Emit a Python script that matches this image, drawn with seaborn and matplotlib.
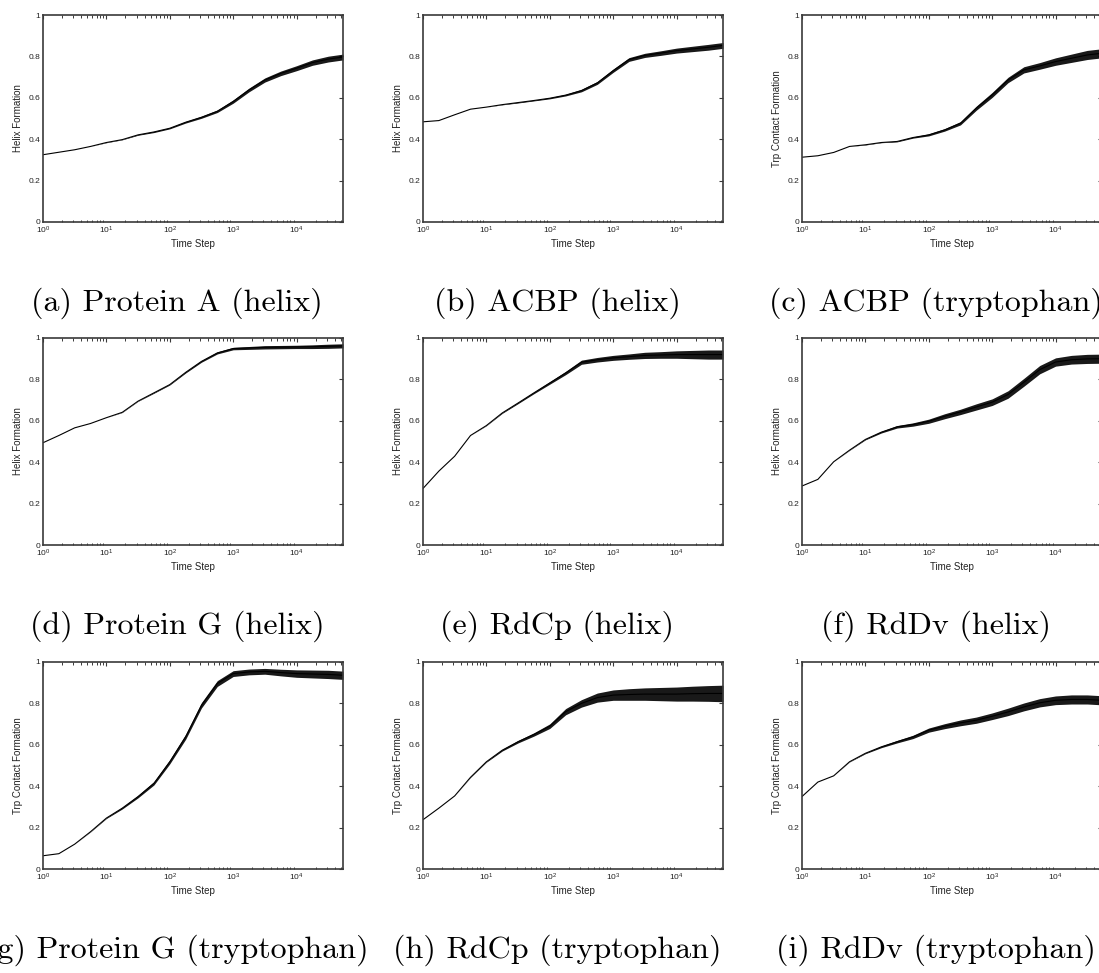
import numpy as np
import matplotlib
matplotlib.use("Agg")
import matplotlib.pyplot as plt
import matplotlib.ticker as mticker
import seaborn as sns

# ---------------- data ----------------
time_steps = [1, 1.78, 3.16, 5.62, 10, 17.8, 31.6, 56.2, 100, 178, 316, 562,
              1000, 1778, 3162, 5623, 10000, 17783, 31623, 54000]

captions = ["(a) Protein A (helix)", "(b) ACBP (helix)", "(c) ACBP (tryptophan)",
            "(d) Protein G (helix)", "(e) RdCp (helix)", "(f) RdDv (helix)",
            "(g) Protein G (tryptophan)", "(h) RdCp (tryptophan)", "(i) RdDv (tryptophan)"]
ylabels = ["Helix Formation", "Helix Formation", "Trp Contact Formation",
           "Helix Formation", "Helix Formation", "Helix Formation",
           "Trp Contact Formation", "Trp Contact Formation", "Trp Contact Formation"]

protein_a_helix = [0.325, 0.337, 0.349, 0.365, 0.384, 0.398, 0.421, 0.435, 0.453, 0.482,
                   0.506, 0.535, 0.582, 0.638, 0.686, 0.718, 0.743, 0.770, 0.787, 0.797]
acbp_helix = [0.484, 0.490, 0.518, 0.545, 0.555, 0.567, 0.577, 0.587, 0.598, 0.613,
              0.635, 0.672, 0.731, 0.785, 0.805, 0.816, 0.828, 0.836, 0.844, 0.853]
acbp_trp = [0.313, 0.320, 0.336, 0.365, 0.373, 0.384, 0.389, 0.408, 0.421, 0.445,
            0.477, 0.550, 0.614, 0.686, 0.735, 0.754, 0.775, 0.791, 0.807, 0.815]
protein_g_helix = [0.494, 0.529, 0.566, 0.587, 0.615, 0.641, 0.695, 0.735, 0.775, 0.834,
                   0.887, 0.928, 0.949, 0.952, 0.955, 0.956, 0.957, 0.958, 0.960, 0.962]
rdcp_helix = [0.273, 0.357, 0.429, 0.529, 0.577, 0.638, 0.686, 0.735, 0.783, 0.831,
              0.883, 0.895, 0.904, 0.910, 0.916, 0.918, 0.920, 0.920, 0.920, 0.920]
rddv_helix = [0.285, 0.317, 0.402, 0.458, 0.510, 0.545, 0.571, 0.582, 0.598, 0.622,
              0.643, 0.667, 0.690, 0.727, 0.786, 0.847, 0.884, 0.895, 0.899, 0.900]
protein_g_trp = [0.064, 0.074, 0.120, 0.180, 0.246, 0.294, 0.350, 0.414, 0.518, 0.639,
                 0.791, 0.896, 0.944, 0.952, 0.955, 0.949, 0.944, 0.942, 0.940, 0.936]
rdcp_trp = [0.238, 0.294, 0.353, 0.443, 0.518, 0.574, 0.615, 0.650, 0.690, 0.760,
            0.800, 0.828, 0.840, 0.843, 0.845, 0.845, 0.845, 0.847, 0.848, 0.848]
rddv_trp = [0.350, 0.420, 0.450, 0.518, 0.559, 0.590, 0.615, 0.638, 0.671, 0.690,
            0.706, 0.719, 0.738, 0.759, 0.783, 0.803, 0.815, 0.819, 0.819, 0.815]

# half-width of the fluctuation band of each trace
band_a = [0, 0, 0, 0, 0.001, 0.001, 0.002, 0.003, 0.003, 0.004, 0.005, 0.006, 0.008, 0.009,
          0.010, 0.011, 0.012, 0.013, 0.014, 0.014]
band_b = [0, 0, 0, 0, 0, 0.001, 0.002, 0.002, 0.003, 0.004, 0.006, 0.007, 0.008, 0.009,
          0.010, 0.011, 0.012, 0.013, 0.014, 0.014]
band_c = [0, 0, 0, 0, 0.001, 0.001, 0.002, 0.003, 0.005, 0.006, 0.008, 0.010, 0.012, 0.013,
          0.015, 0.016, 0.018, 0.020, 0.022, 0.022]
band_d = [0, 0, 0, 0, 0, 0.001, 0.001, 0.002, 0.002, 0.003, 0.004, 0.005, 0.006, 0.007,
          0.008, 0.008, 0.008, 0.009, 0.010, 0.010]
band_e = [0, 0, 0, 0, 0.001, 0.002, 0.003, 0.004, 0.006, 0.008, 0.010, 0.011, 0.012, 0.013,
          0.015, 0.016, 0.018, 0.020, 0.022, 0.022]
band_f = [0, 0, 0, 0.001, 0.002, 0.004, 0.006, 0.008, 0.010, 0.012, 0.013, 0.015, 0.016, 0.018,
          0.019, 0.020, 0.020, 0.021, 0.022, 0.022]
band_g = [0, 0, 0, 0.001, 0.002, 0.004, 0.006, 0.008, 0.010, 0.012, 0.013, 0.014, 0.014, 0.014,
          0.014, 0.016, 0.018, 0.019, 0.020, 0.020]
band_h = [0, 0, 0, 0.001, 0.002, 0.004, 0.006, 0.008, 0.011, 0.015, 0.018, 0.022, 0.025, 0.028,
          0.030, 0.032, 0.034, 0.036, 0.038, 0.040]
band_i = [0, 0, 0, 0.001, 0.002, 0.004, 0.006, 0.008, 0.010, 0.012, 0.014, 0.015, 0.016, 0.018,
          0.019, 0.020, 0.021, 0.022, 0.022, 0.022]

series = [protein_a_helix, acbp_helix, acbp_trp,
          protein_g_helix, rdcp_helix, rddv_helix,
          protein_g_trp, rdcp_trp, rddv_trp]
bands = [band_a, band_b, band_c, band_d, band_e, band_f, band_g, band_h, band_i]

y_ticks = [0, 0.2, 0.4, 0.6, 0.8, 1]
y_ticklabels = ["0", "0.2", "0.4", "0.6", "0.8", "1"]

# ---------------- styling ----------------
sns.set_theme(style="white")
plt.rcParams["font.family"] = ["Liberation Sans", "DejaVu Sans"]
plt.rcParams["mathtext.fontset"] = "custom"
plt.rcParams["mathtext.rm"] = "Liberation Sans"
plt.rcParams["mathtext.it"] = "Liberation Sans"

W, H = 1099, 973
fig = plt.figure(figsize=(W / 100, H / 100), dpi=100)
fig.patch.set_facecolor("white")

col_left = [43, 423, 802]
row_top = [15, 338, 662]
ax_w, ax_h = 300, 207
spine_color = "#3a3a3a"

for idx in range(9):
    r, c = divmod(idx, 3)
    left, top = col_left[c], row_top[r]
    ax = fig.add_axes([left / W, 1 - (top + ax_h) / H, ax_w / W, ax_h / H])
    xs = np.array(time_steps)
    ys = np.array(series[idx])
    bw = np.array(bands[idx])
    ax.fill_between(xs, ys - bw, ys + bw, color="black", linewidth=0, alpha=0.9)
    sns.lineplot(x=xs, y=ys, ax=ax, color="black", linewidth=0.8)

    ax.set_xscale("log")
    ax.set_xlim(1, 54000)
    ax.set_ylim(0, 1)
    ax.set_yticks(y_ticks)
    ax.set_yticklabels(y_ticklabels)
    ax.xaxis.set_major_locator(mticker.LogLocator(base=10, numticks=10))
    ax.xaxis.set_minor_locator(mticker.LogLocator(base=10, subs=np.arange(2, 10), numticks=20))
    ax.xaxis.set_minor_formatter(mticker.NullFormatter())
    ax.tick_params(axis="both", which="major", direction="in", length=3, width=0.8,
                   color=spine_color, labelsize=6, top=True, right=True, pad=2,
                   labelcolor="#222222")
    ax.tick_params(axis="x", which="minor", direction="in", length=1.8, width=0.7,
                   color=spine_color, top=True, bottom=True)
    for sp in ax.spines.values():
        sp.set_color(spine_color)
        sp.set_linewidth(1.2)
        sp.set_visible(True)
    ax.grid(False)
    ax.set_facecolor("white")
    ax.set_xlabel("Time Step", fontsize=7, labelpad=2, color="#222222")
    ax.set_ylabel(ylabels[idx], fontsize=7, labelpad=4, color="#222222")

    cx = (left + ax_w / 2 - 16) / W
    cy = 1 - (top + ax_h + 81) / H
    fig.text(cx, cy, captions[idx], ha="center", va="center",
             fontsize=23, family=["cmr10", "DejaVu Serif"], color="black")

fig.savefig("out.png", dpi=100, facecolor="white")
